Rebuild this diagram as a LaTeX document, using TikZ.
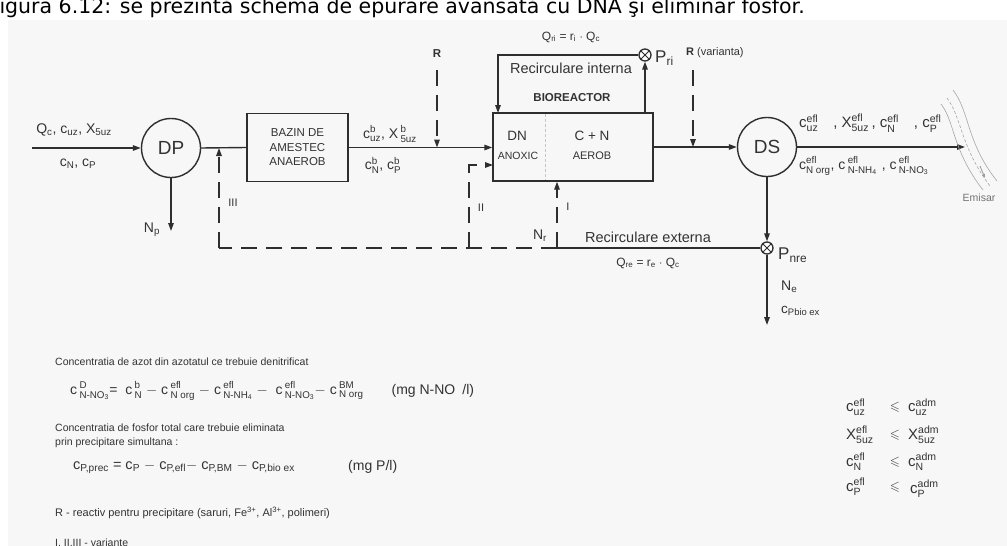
\documentclass[tikz,border=0pt]{standalone}
\usepackage{amsmath,amssymb}
\usepackage{fontspec}
\setmainfont{Liberation Sans}
\newfontfamily\capfont{DejaVu Sans}
\usetikzlibrary{arrows.meta,calc}
\definecolor{ink}{HTML}{2E2E2E}
\definecolor{txt}{HTML}{333333}
\definecolor{panel}{HTML}{F7F7F7}
\newcommand{\fsz}[1]{\fontsize{#1}{#1}\selectfont}
\newcommand{\vs}[3]{$\text{#1}^{\text{#2}}_{\text{#3}}$}
\newcommand{\tx}[1]{\text{#1}}
\begin{document}
\begin{tikzpicture}[x=1pt,y=-1pt,
  ln/.style={draw=ink,line width=1.4pt},
  arr/.style={ln,-{Triangle[length=8pt,width=5.5pt]}},
  dsh/.style={dash pattern=on 16pt off 9pt},
  bigcirc/.style={circle,ln,minimum size=59pt,inner sep=0pt,text=txt,font=\fsz{19}},
  box/.style={rectangle,ln,text=txt,inner sep=0pt},
  pt/.style={circle,draw=ink,line width=1.3pt,minimum size=12pt,inner sep=0pt,fill=white},
  lbl/.style={text=txt,inner sep=0pt,font=\fsz{13}},
  small/.style={text=txt,inner sep=0pt,font=\fsz{11}},
  note/.style={text=txt,inner sep=0pt,anchor=west,font=\fsz{10.5}},
  riv/.style={draw=gray!70,line width=0.6pt}]
\useasboundingbox (0,0) rectangle (1007,546);
\fill[white] (0,0) rectangle (1007,546);
\fill[panel] (8,20) rectangle (1007,546);

% caption
\node[anchor=base west,inner sep=0pt,text=black,font=\capfont\fsz{20.5}] (cap) at (-11,13)
  {Figura 6.12: se prezintă schema de epurare avansată cu DNA şi eliminar fosfor.};

% main nodes
\node[bigcirc] (DP) at (171,148) {DP};
\node[box,minimum width=101pt,minimum height=68pt,align=center,font=\fsz{11.5}] (BZ) at (297.5,147.5)
  {BAZIN DE\\[3pt]AMESTEC\\[3pt]ANAEROB};
\node[box,minimum width=160pt,minimum height=68pt] (BR) at (573,147) {};
\node[bigcirc] (DS) at (767,147) {DS};
\node[pt] (Pri) at (645,55) {};
\draw[ink,line width=0.9pt] (Pri.north west) -- (Pri.south east) (Pri.north east) -- (Pri.south west);
\node[pt] (Pnre) at (767,248) {};
\draw[ink,line width=0.9pt] (Pnre.north west) -- (Pnre.south east) (Pnre.north east) -- (Pnre.south west);

% bioreactor interior
\draw[gray!45,line width=0.8pt,dash pattern=on 3pt off 2pt] (545,114) -- (545,180);
\node[text=txt,font=\fsz{13.5}] (dn) at (517,136) {DN};
\node[text=txt,font=\fsz{10.5}] (anox) at (518,156) {ANOXIC};
\node[text=txt,font=\fsz{13.5}] (cn) at (592,136) {C + N};
\node[text=txt,font=\fsz{11}] (aer) at (592,156) {AEROB};
\node[text=txt,font=\bfseries\fsz{11.5}] (bio) at (572,98) {BIOREACTOR};

% coordinates
\coordinate (in) at (32,148);
\coordinate (np) at (171,231);
\coordinate (R1) at (437,70);
\coordinate (R2) at (693,70);
\coordinate (ne) at (767,325);
\coordinate (jI) at (557,248);
\coordinate (jII) at (469,248);
\coordinate (jIII) at (219,248);
\coordinate (IIc) at (469,165);
\coordinate (IIe) at (493,165);
\coordinate (ric) at (498,55);
\coordinate (rie) at (498,113);
\coordinate (out) at (965,147);

% connectors
\draw[arr] (in) -- (DP.west);
\draw[ln] (DP.east) -- (BZ.west);
\draw[arr] (DP.south) -- (np);
\draw[arr] (BZ.east) -- (BZ.east -| BR.west);
\draw[arr,dsh] (R1) -- (R1 |- BZ.east);
\draw[arr] (BR.east) -- (DS.west);
\draw[arr,dsh] (R2) -- (R2 |- DS.west);
\draw[arr] (DS.east) -- (out);
\draw[arr] (DS.south) -- (Pnre.north);
\draw[arr] (Pnre.south) -- (ne);
\draw[ln] (Pnre.west) -- (jI);
\draw[ln,dsh] (jI) -- (jIII);
\draw[arr,dsh] (jIII) -- (jIII |- DP.east);
\draw[arr,dsh] (jII) -- (IIc) -- (IIe);
\draw[arr,dsh] (jI) -- (jI |- BR.south);
\draw[arr] (Pri.south |- BR.north) -- (Pri.south);
\draw[arr] (Pri.west) -- (ric) -- (rie);

% river
\draw[riv] (941,104) .. controls (955,122) and (952,150) .. (983,190);
\draw[riv,dash pattern=on 3pt off 2pt] (947,98) .. controls (962,118) and (960,146) .. (990,186);
\draw[riv] (953,90) .. controls (970,112) and (966,142) .. (997,181);
\draw[gray!80,line width=0.8pt,-{Triangle[length=4pt,width=3pt]}] (980,166) -- (985,178);
\node[text=gray!90!black,inner sep=0pt,font=\fsz{10.5}] (emi) at (979,198) {Emisar};

% labels
\node[lbl,font=\fsz{14}] (lin1) at (74,130) {Q$_{\tx{c}}$, c$_{\tx{uz}}$, X$_{\tx{5uz}}$};
\node[lbl,font=\fsz{14}] (lin2) at (78,164) {c$_{\tx{N}}$, c$_{\tx{P}}$};
\node[lbl,font=\fsz{14}] (lb1) at (390,134) {\vs{c}{b}{uz}, X\,\vs{}{b}{5uz}};
\node[lbl,font=\fsz{14}] (lb2) at (383,165) {\vs{c}{b}{N}, \vs{c}{b}{P}};
\node[small,font=\bfseries\fsz{11.5}] (Rl) at (437,54) {R};
\node[small,anchor=west] (Rv) at (686,53) {\textbf{R} (varianta)};
\node[small,font=\fsz{12}] (qri) at (571,37) {Q$_{\tx{ri}}$ = r$_{\tx{i}}$ $\cdot$ Q$_{\tx{c}}$};
\node[text=txt,font=\fsz{14.5}] (rint) at (571,68) {Recirculare interna};
\node[text=txt,inner sep=0pt,anchor=west,font=\fsz{17}] (Pril) at (655,58) {P$_{\tx{ri}}$};
\node[small] (l3) at (233,203) {III};
\node[small] (l2) at (481,208) {II};
\node[small] (l1) at (568,207) {I};
\node[text=txt,inner sep=0pt,font=\fsz{14}] (Npl) at (152,230) {N$_{\tx{p}}$};
\node[text=txt,inner sep=0pt,font=\fsz{14}] (Nrl) at (540,236) {N$_{\tx{r}}$};
\node[text=txt,font=\fsz{14.5}] (rext) at (648,237) {Recirculare externa};
\node[small,font=\fsz{12}] (qre) at (648,263) {Q$_{\tx{re}}$ = r$_{\tx{e}}$ $\cdot$ Q$_{\tx{c}}$};
\node[text=txt,inner sep=0pt,anchor=west,font=\fsz{17}] (Pnrel) at (778,255) {P$_{\tx{nre}}$};
\node[text=txt,inner sep=0pt,anchor=west,font=\fsz{14}] (Nel) at (781,287) {N$_{\tx{e}}$};
\node[text=txt,inner sep=0pt,anchor=west,font=\fsz{13.5}] (cpl) at (781,311) {c$_{\tx{Pbio ex}}$};
\node[lbl,anchor=west,font=\fsz{15}] (eff1) at (799,123) {\vs{c}{efl}{uz}\quad, \vs{X}{efl}{5uz}\,, \vs{c}{efl}{N}\quad, \vs{c}{efl}{P}};
\node[lbl,anchor=west,font=\fsz{14}] (eff2) at (799,166) {\vs{c}{efl}{N org}, \vs{c\,}{efl}{N-NH$_{\tx{4}}$}\,\,, \vs{c\,}{efl}{N-NO$_{\tx{3}}$}};

% bottom notes
\node[note] (n1) at (55,362) {Concentratia de azot din azotatul ce trebuie denitrificat};
\node[note,font=\fsz{14}] (f1) at (70,391) {\vs{c\,}{D}{N-NO$_{\tx{3}}$}= \ \vs{c\,}{b}{N} $-$ \vs{c\,}{efl}{N org} $-$ \vs{c\,}{efl}{N-NH$_{\tx{4}}$} $-$ \ \vs{c\,}{efl}{N-NO$_{\tx{3}}$}$-$ \vs{c\,}{BM}{N org}\qquad(mg N-NO\enspace/l)};
\node[note] (n2) at (55,428) {Concentratia de fosfor total care trebuie eliminata};
\node[note] (n3) at (55,443) {prin precipitare simultana :};
\node[note,font=\fsz{14.5}] (f2) at (73,467) {c$_{\tx{P,prec}}$ = c$_{\tx{P}}$ $-$ c$_{\tx{P,efl}}$$-$ c$_{\tx{P,BM}}$ $-$ c$_{\tx{P,bio ex}}$};
\node[note,font=\fsz{14}] (f2u) at (348,467) {(mg P/l)};
\node[note,font=\fsz{11}] (n4) at (55,513) {R - reactiv pentru precipitare (saruri, Fe$^{\tx{3+}}$, Al$^{\tx{3+}}$, polimeri)};
\node[note] (n5) at (55,543) {I, II,III - variante};

% inequalities
\node[lbl,anchor=west,font=\fsz{15}] (a1) at (846,407) {\vs{c}{efl}{uz}};
\node[lbl,anchor=west,font=\fsz{15}] (a2) at (846,435) {\vs{X}{efl}{5uz}};
\node[lbl,anchor=west,font=\fsz{15}] (a3) at (846,462) {\vs{c}{efl}{N}};
\node[lbl,anchor=west,font=\fsz{15}] (a4) at (846,487) {\vs{c}{efl}{P}};
\node[lbl] (le1) at (895,407) {$\leqslant$};
\node[lbl] (le2) at (895,435) {$\leqslant$};
\node[lbl] (le3) at (895,462) {$\leqslant$};
\node[lbl] (le4) at (895,487) {$\leqslant$};
\node[lbl,anchor=west,font=\fsz{15}] (b1) at (908,407) {\vs{c}{adm}{uz}};
\node[lbl,anchor=west,font=\fsz{15}] (b2) at (908,435) {\vs{X}{adm}{5uz}};
\node[lbl,anchor=west,font=\fsz{15}] (b3) at (908,462) {\vs{c}{adm}{N}};
\node[lbl,anchor=west,font=\fsz{15}] (b4) at (910,489) {\vs{c}{adm}{P}};
\end{tikzpicture}
\end{document}
